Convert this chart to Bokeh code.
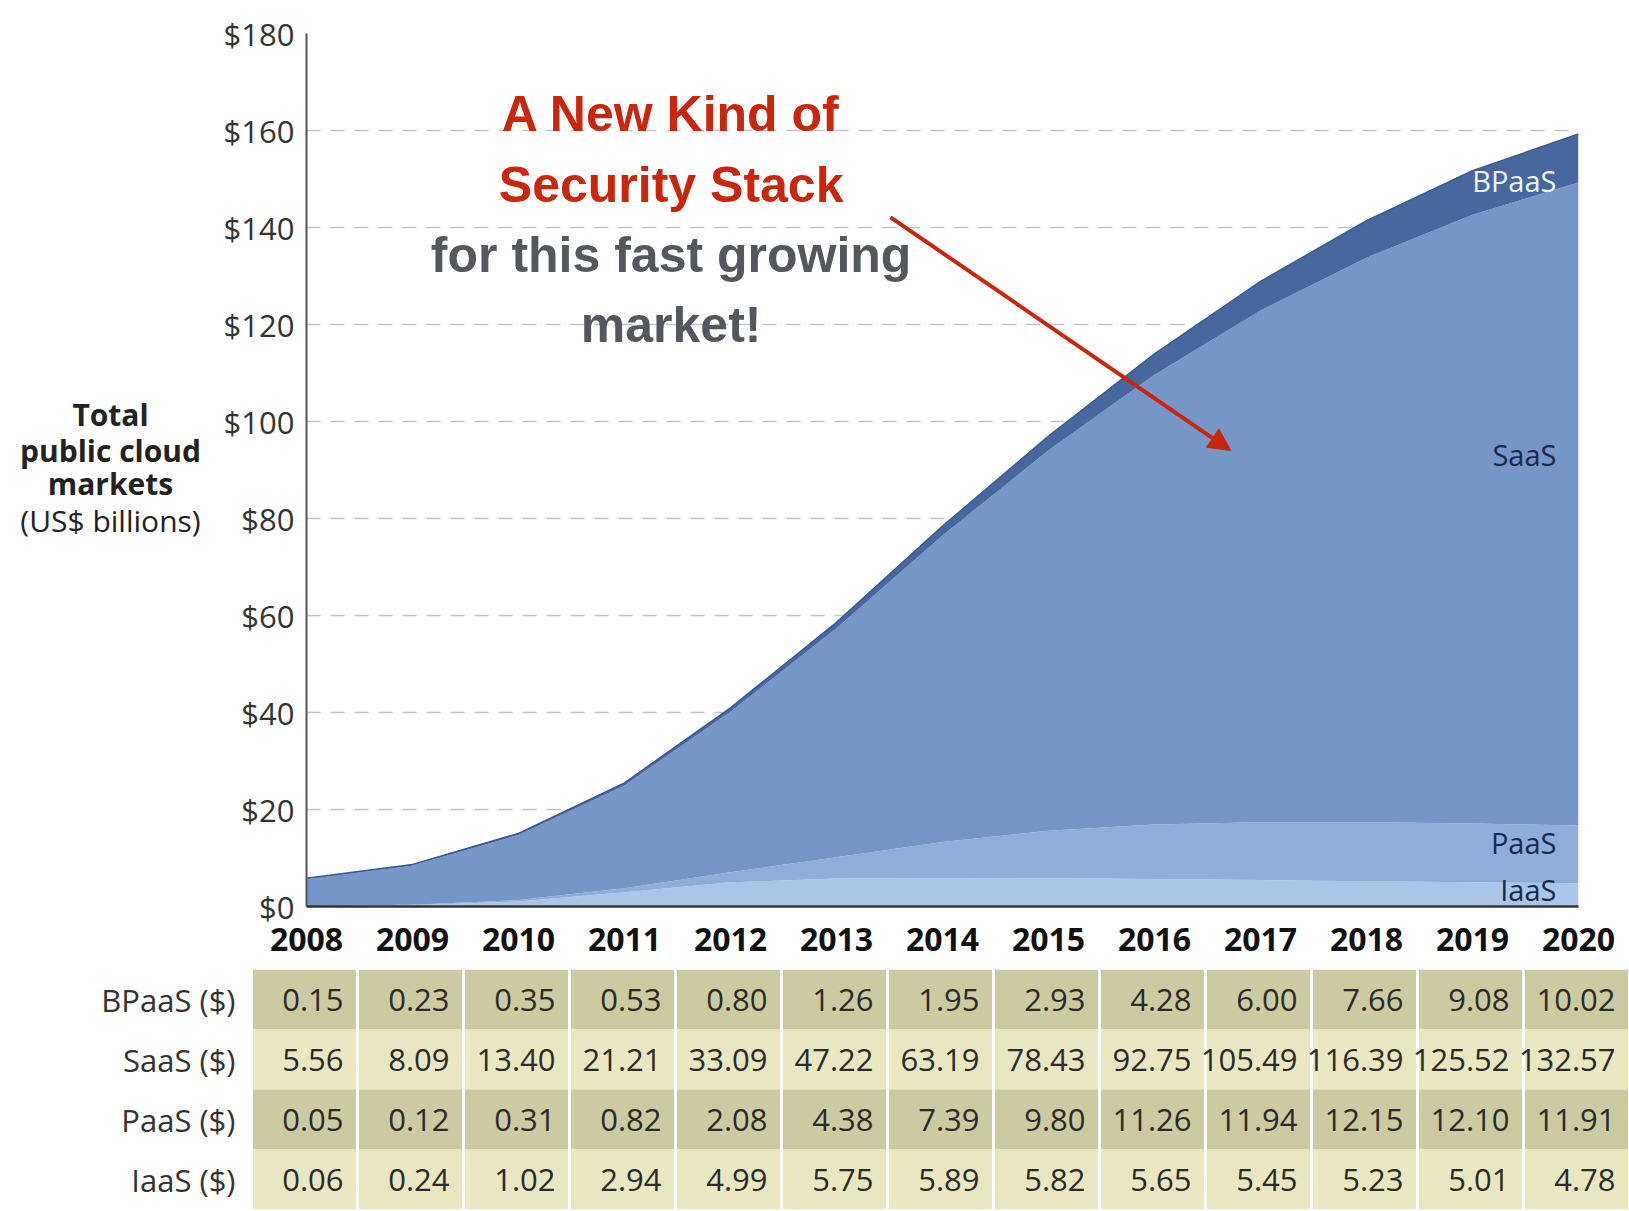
from bokeh.plotting import figure
from bokeh.models import Range1d, FixedTicker, ColumnDataSource, Label, Arrow, NormalHead, FactorRange
from bokeh.layouts import column, row
from bokeh.embed import file_html
from bokeh.resources import INLINE
from bokeh.core.properties import value
from bokeh.transform import stack

# ---------------- data ----------------
years = [2008, 2009, 2010, 2011, 2012, 2013, 2014, 2015, 2016, 2017, 2018, 2019, 2020]
bpaas = [0.15, 0.23, 0.35, 0.53, 0.80, 1.26, 1.95, 2.93, 4.28, 6.00, 7.66, 9.08, 10.02]
saas = [5.56, 8.09, 13.40, 21.21, 33.09, 47.22, 63.19, 78.43, 92.75, 105.49, 116.39, 125.52, 132.57]
paas = [0.05, 0.12, 0.31, 0.82, 2.08, 4.38, 7.39, 9.80, 11.26, 11.94, 12.15, 12.10, 11.91]
iaas = [0.06, 0.24, 1.02, 2.94, 4.99, 5.75, 5.89, 5.82, 5.65, 5.45, 5.23, 5.01, 4.78]

series_names = ["IaaS", "PaaS", "SaaS", "BPaaS"]
row_labels = ["BPaaS ($)", "SaaS ($)", "PaaS ($)", "IaaS ($)"]
y_ticks = [0, 20, 40, 60, 80, 100, 120, 140, 160, 180]
y_tick_labels = ["$0", "$20", "$40", "$60", "$80", "$100", "$120", "$140", "$160", "$180"]
y_title_lines = ["Total", "public cloud", "markets", "(US$ billions)"]
callout_lines = ["A New Kind of", "Security Stack", "for this fast growing", "market!"]

# ---------------- styles ----------------
C_IAAS = "#a9c6e8"
C_PAAS = "#8eadd9"
C_SAAS = "#7796c8"
C_BPAAS = "#46689e"
RED = "#c9260c"
GREY = "#53585f"
FONT = "Open Sans"
NARROW = "Liberation Sans Narrow, Liberation Sans, Arial Narrow, sans-serif"
TOP, BOTTOM = 33, 59
TITLE_W = 220

src = ColumnDataSource(dict(year=years, iaas=iaas, paas=paas, saas=saas, bpaas=bpaas))

# ---------------- y-axis title panel ----------------
pt = figure(width=TITLE_W, height=965, x_range=Range1d(0, TITLE_W), y_range=Range1d(0, 180),
            x_axis_type=None, y_axis_type=None, output_backend="svg", toolbar_location=None,
            min_border_left=0, min_border_right=0, min_border_top=TOP, min_border_bottom=BOTTOM)
pt.outline_line_color = None
pt.grid.visible = False
pt.frame_align = False
tsrc_title = ColumnDataSource(dict(x=[110] * 4, y=[101.4, 94.0, 87.2, 79.6], t=y_title_lines,
                                   s=["bold", "bold", "bold", "normal"]))
pt.text(x="x", y="y", text="t", text_font_style="s", source=tsrc_title, text_align="center",
        text_baseline="middle", text_font=value(FONT), text_font_size="30px",
        text_color="#222222")

# ---------------- chart ----------------
p1 = figure(width=1629 - TITLE_W, height=965, x_range=Range1d(2008, 2020), y_range=Range1d(0, 180),
            output_backend="svg", toolbar_location=None,
            min_border_left=304 - TITLE_W, min_border_right=51,
            min_border_top=TOP, min_border_bottom=BOTTOM)
p1.outline_line_color = None
p1.background_fill_color = "white"
p1.frame_align = False

p1.varea_stack(["iaas", "paas", "saas", "bpaas"], x="year",
               color=[C_IAAS, C_PAAS, C_SAAS, C_BPAAS], source=src)
p1.line(x="year", y=stack("iaas", "paas", "saas", "bpaas"), source=src,
        line_color="#3b5a8c", line_width=1.5)

# grid
p1.xgrid.visible = False
p1.ygrid.ticker = FixedTicker(ticks=y_ticks)
p1.ygrid.grid_line_color = "#c4c4c4"
p1.ygrid.grid_line_dash = "14 10"
p1.ygrid.grid_line_width = 1.5

# y axis
p1.yaxis.ticker = FixedTicker(ticks=y_ticks)
p1.yaxis.major_label_overrides = {t: l for t, l in zip(y_ticks, y_tick_labels)}
p1.yaxis.major_label_text_font = FONT
p1.yaxis.major_label_text_font_size = "31px"
p1.yaxis.major_label_text_color = "#333333"
p1.yaxis.major_tick_line_color = None
p1.yaxis.minor_tick_line_color = None
p1.yaxis.axis_line_color = "#555555"
p1.yaxis.axis_line_width = 2
p1.yaxis.major_label_standoff = 6

# x axis (years)
p1.xaxis.ticker = FixedTicker(ticks=years)
p1.xaxis.major_label_overrides = {y: str(y) for y in years}
p1.xaxis.major_label_text_font = FONT
p1.xaxis.major_label_text_font_style = "bold"
p1.xaxis.major_label_text_font_size = "32px"
p1.xaxis.major_label_text_color = "#111111"
p1.xaxis.major_tick_line_color = None
p1.xaxis.minor_tick_line_color = None
p1.xaxis.axis_line_color = "#333333"
p1.xaxis.axis_line_width = 2.5
p1.xaxis.major_label_standoff = 15

# series labels at right edge
lab_src = ColumnDataSource(dict(
    x=[years[-1]] * 4,
    y=[3.5, 13.2, 93.2, 149.7],
    t=series_names,
    c=["#1b2a48", "#1b2a48", "#1b2a48", "#eef2f8"],
))
p1.text(x="x", y="y", text="t", text_color="c", source=lab_src, x_offset=-22,
        text_align="right", text_baseline="middle",
        text_font=value(FONT), text_font_size="29px")

# call-out text
for txt, yy, col in zip(callout_lines, [163.4, 148.8, 134.3, 119.8], [RED, RED, GREY, GREY]):
    p1.add_layout(Label(x=2011.44, y=yy, text=txt, text_align="center", text_baseline="middle",
                        text_font=NARROW, text_font_style="bold", text_font_size="50px",
                        text_color=col))

p1.add_layout(Arrow(end=NormalHead(size=22, fill_color=RED, line_color=RED),
                    x_start=2013.51, y_start=142.1, x_end=2016.72, y_end=94.0,
                    line_color=RED, line_width=4))

# ---------------- table ----------------
p2 = figure(width=1629, height=246, x_range=Range1d(2007.5, 2020.5),
            y_range=FactorRange(factors=list(reversed(row_labels))),
            output_backend="svg", toolbar_location=None,
            min_border_left=251, min_border_right=0, min_border_top=4, min_border_bottom=2)
p2.outline_line_color = None
p2.frame_align = False
p2.grid.visible = False
p2.xaxis.visible = False
p2.yaxis.axis_line_color = None
p2.yaxis.major_tick_line_color = None
p2.yaxis.minor_tick_line_color = None
p2.yaxis.major_label_text_font = FONT
p2.yaxis.major_label_text_font_size = "31px"
p2.yaxis.major_label_text_color = "#333333"
p2.yaxis.major_label_standoff = 10

row_values = [bpaas, saas, paas, iaas]
row_colors = ["#cbcaa1", "#e8e7c1", "#cbcaa1", "#e8e7c1"]
cx, cy, ctxt, ccol, tx = [], [], [], [], []
for lab, vals, col in zip(row_labels, row_values, row_colors):
    for yr, v in zip(years, vals):
        cx.append(yr)
        tx.append(yr + 0.5)
        cy.append(lab)
        ctxt.append("%.2f" % v)
        ccol.append(col)
tsrc = ColumnDataSource(dict(x=cx, tx=tx, y=cy, t=ctxt, c=ccol))
p2.rect(x="x", y="y", width=0.972, height=1, fill_color="c", line_color=None, source=tsrc)
p2.text(x="tx", y="y", text="t", source=tsrc, x_offset=-14, text_align="right",
        text_baseline="middle", text_font=value(FONT), text_font_size="31px",
        text_color="#2b2b2b")

layout = column(row(pt, p1, spacing=0), p2, spacing=0)
open("out.html", "w").write(file_html(layout, INLINE))
